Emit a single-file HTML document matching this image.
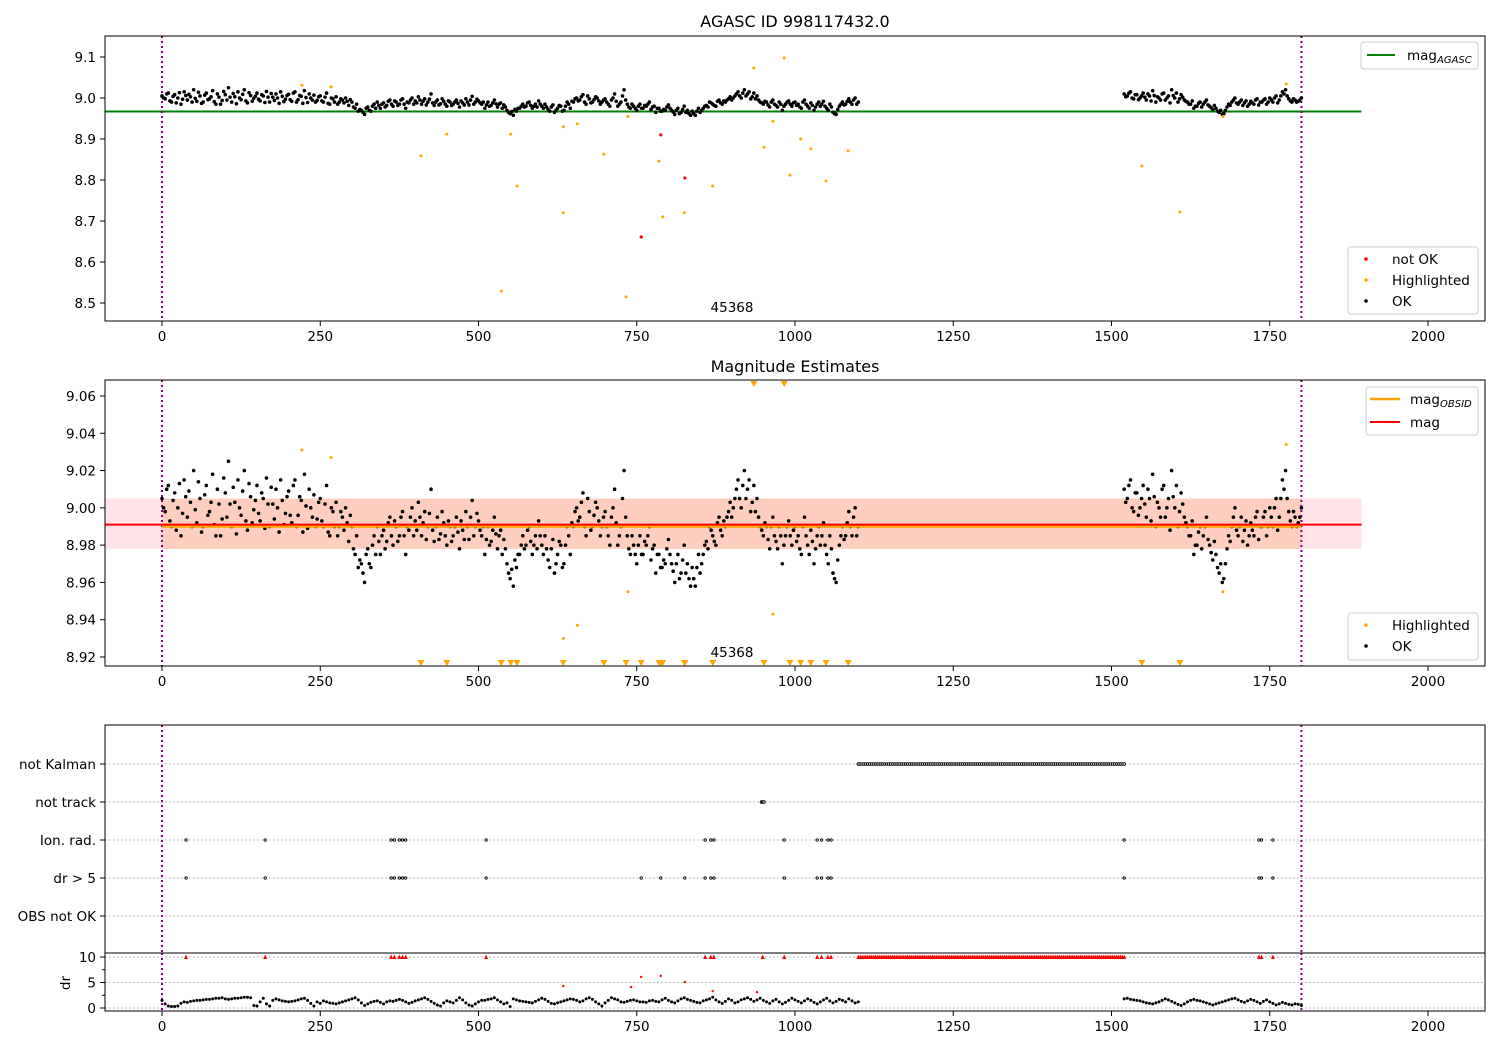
<!DOCTYPE html>
<html><head><meta charset="utf-8"><style>
body{margin:0;background:#fff}
svg{display:block;font-family:"DejaVu Sans","Liberation Sans",sans-serif}
</style></head><body>
<svg id="fig" width="1500" height="1050" viewBox="0 0 1500 1050" xmlns="http://www.w3.org/2000/svg"></svg>
<script>
// ---- data ----
const magT0 = 0, magStep = 5;
const magSeg1 = [9.005,8.998,9.012,8.99,9.008,9.0,8.985,9.015,8.995,9.003,
9.02,8.992,9.005,8.99,9.012,8.998,9.018,8.985,9.002,8.994,
9.008,9.025,8.99,9.003,9.015,8.996,9.02,8.988,9.006,8.999,
9.012,8.993,9.005,9.016,8.99,9.002,9.01,8.987,9.004,8.997,
9.009,8.992,9.015,8.996,9.004,9.018,8.989,9.0,9.007,8.994,
9.005,8.99,9.012,8.985,8.998,9.003,8.99,8.995,9.0,8.982,
8.99,8.975,8.968,8.97,8.96,8.978,8.968,8.985,8.99,8.975,
8.988,8.982,8.995,8.98,8.99,8.985,8.998,8.975,8.988,9.0,
8.993,9.003,8.985,8.998,8.99,9.01,8.982,8.995,8.986,8.992,
8.98,8.99,8.985,8.995,8.978,8.988,8.998,8.983,9.004,8.99,
8.993,8.985,8.975,8.99,8.982,8.995,8.978,8.988,8.983,8.97,
8.962,8.958,8.968,8.975,8.985,8.98,8.99,8.975,8.985,8.993,
8.98,8.985,8.972,8.978,8.965,8.975,8.98,8.97,8.99,8.975,
8.99,9.0,8.995,9.008,8.985,8.998,8.99,9.003,8.993,8.99,
8.998,8.985,8.995,9.01,8.98,8.99,9.02,8.985,8.975,8.98,
8.97,8.985,8.975,8.98,8.99,8.978,8.965,8.975,8.968,8.97,
8.983,8.97,8.96,8.975,8.965,8.98,8.97,8.958,8.962,8.968,
8.965,8.975,8.982,8.99,8.985,8.98,8.995,8.985,8.99,8.998,
8.995,9.005,9.015,9.0,9.02,9.01,8.998,9.012,9.005,8.99,
8.985,8.99,8.978,8.995,8.982,8.99,8.97,8.985,8.993,8.98,
8.99,8.985,8.975,8.995,8.98,8.988,8.97,8.985,8.98,8.992,
8.975,8.985,8.965,8.96,8.98,8.99,8.985,8.998,8.985,9.0,
8.99];
// interleaved observations at t = 2.5 + 5*i
const magSeg1b = [9.0,9.01,8.993,9.004,8.988,9.013,8.997,9.006,9.009,8.99,
8.999,9.014,8.987,9.007,8.996,9.003,8.991,9.01,8.985,9.016,
8.995,9.002,9.011,8.986,9.0,9.009,8.993,9.013,8.992,9.004,
8.997,9.008,8.989,9.002,9.011,8.994,9.0,9.015,8.991,9.006,
8.996,9.012,8.99,9.006,8.987,9.001,9.01,8.995,8.99,9.003,
8.993,9.002,8.987,9.0,8.99,8.985,8.998,8.988,8.992,8.996,
8.978,8.985,8.972,8.965,8.975,8.97,8.98,8.975,8.982,8.985,
8.978,8.992,8.985,8.993,8.982,8.995,8.985,8.99,8.995,8.985,
8.988,8.995,8.992,8.983,8.997,8.988,8.99,8.983,8.998,8.985,
8.993,8.982,8.99,8.987,8.993,8.983,8.99,8.995,8.985,8.997,
8.988,8.99,8.983,8.98,8.988,8.986,8.985,8.975,8.978,8.965,
8.967,8.972,8.975,8.98,8.978,8.988,8.982,8.98,8.978,8.985,
8.975,8.978,8.968,8.983,8.97,8.982,8.968,8.98,8.985,8.992,
8.998,8.993,9.003,8.99,9.005,8.988,8.996,9.0,8.985,8.995,
8.99,8.98,9.0,8.992,8.985,9.005,8.995,8.978,8.985,8.975,
8.98,8.975,8.982,8.985,8.972,8.98,8.975,8.968,8.972,8.978,
8.975,8.966,8.97,8.962,8.972,8.965,8.962,8.968,8.958,8.975,
8.97,8.98,8.978,8.988,8.982,8.992,8.988,8.993,8.995,9.003,
9.0,9.01,9.005,9.012,9.005,9.015,9.003,8.998,8.995,8.988,
8.992,8.983,8.99,8.985,8.978,8.985,8.98,8.99,8.985,8.988,
8.982,8.978,8.99,8.985,8.975,8.982,8.978,8.99,8.985,8.98,
8.97,8.978,8.962,8.972,8.985,8.983,8.992,8.99,8.995,8.985];
const magT1 = 1520;
const magSeg2 = [9.01,9.005,9.015,8.998,9.008,9.0,9.012,8.995,9.005,9.018,
8.99,9.0,9.01,8.995,9.005,9.02,9.0,8.99,9.008,8.995,
8.99,8.985,8.975,8.98,8.99,8.985,8.995,8.98,8.972,8.975,
8.965,8.96,8.97,8.985,8.99,9.0,8.985,8.995,8.988,8.98,
8.992,8.985,8.998,8.99,8.995,8.985,9.0,8.99,9.005,8.995,
9.015,9.02,8.998,8.99,8.995,8.992,9.0];
const magSeg2b = [9.003,9.012,9.0,9.008,8.996,9.005,9.002,9.01,8.993,9.006,
9.003,8.995,9.012,9.0,8.988,9.006,9.012,8.998,9.002,8.992,
8.985,8.993,8.98,8.987,8.978,8.99,8.983,8.976,8.982,8.968,
8.97,8.962,8.978,8.982,8.995,8.988,8.99,8.982,8.993,8.985,
8.988,8.995,8.983,8.99,8.998,8.99,8.995,9.0,8.988,9.005,
9.01,9.005,8.993,8.998,8.99,8.995];
const drSeg1 = [1.5,0.8,0.4,0.3,0.3,0.4,0.9,1.2,1.1,1.3,1.4,1.5,1.5,1.6,1.7,1.7,1.8,1.9,1.9,2.0,
1.8,1.7,1.8,1.9,1.9,2.0,2.1,2.1,2.0,0.5,0.4,1.2,1.9,0.8,0.4,1.5,1.8,1.6,1.4,1.3,
1.2,1.3,1.4,1.6,1.8,1.9,1.5,0.9,0.4,1.2,0.9,1.4,1.2,1.0,0.9,0.8,1.0,1.2,1.4,1.6,
1.8,2.0,1.6,1.0,0.5,0.8,1.1,1.3,1.4,1.1,0.8,1.2,1.4,1.3,1.5,1.7,1.5,1.2,0.9,1.1,
1.4,1.6,1.8,2.0,1.7,1.3,0.9,0.6,0.4,1.0,1.4,1.2,1.0,1.5,2.0,1.6,1.0,0.6,0.4,0.8,
1.2,1.5,1.5,1.7,1.8,2.0,1.6,1.2,0.8,1.0,0.3,1.8,1.6,1.4,1.3,1.2,1.1,1.0,1.3,1.6,
1.9,1.7,1.3,0.9,0.8,1.0,1.2,1.4,1.6,1.8,1.7,1.5,1.2,1.4,1.8,2.0,1.7,1.2,0.8,0.4,
1.0,1.5,2.0,1.8,1.6,1.2,1.1,1.3,1.5,1.6,1.4,1.2,1.2,1.1,1.4,1.5,1.3,1.2,1.6,1.9,
1.5,1.2,1.0,1.4,1.8,2.0,1.7,1.5,1.3,1.1,1.0,1.4,1.6,1.8,2.1,1.6,1.2,0.9,1.3,1.8,
1.5,1.0,1.2,1.6,1.8,2.0,1.7,1.3,1.6,1.9,1.5,1.2,0.9,1.4,1.7,1.2,0.8,1.1,1.5,1.9,
1.6,1.3,1.0,1.4,1.8,1.5,1.1,0.8,1.2,1.6,1.9,1.4,1.0,1.3,1.7,1.5,1.2,1.8,1.4,1.0,1.2];
const drSeg2 = [1.8,1.9,1.7,1.6,1.5,1.4,1.2,1.0,0.9,0.8,1.0,1.2,1.5,1.8,1.6,1.3,1.0,0.7,0.5,0.8,
1.2,1.5,1.7,1.5,1.4,1.2,1.0,0.8,0.6,0.8,1.0,1.2,1.4,1.6,1.8,1.9,1.6,1.3,1.1,1.4,
1.7,1.5,1.2,0.9,1.3,1.6,1.2,0.9,0.6,0.8,1.1,0.9,0.7,0.6,0.8,0.7,0.5];
const hlT = [221,267,409,450,536,551,561,634,634,656,698,733,736,785,791,825,870,935,951,965,983,992,1009,1025,1049,1084,1548,1608,1676,1776];
const hlMag = [9.031,9.027,8.859,8.912,8.529,8.912,8.785,8.930,8.720,8.937,8.863,8.515,8.955,8.846,8.710,8.720,8.785,9.073,8.880,8.943,9.098,8.812,8.900,8.876,8.798,8.871,8.834,8.722,8.955,9.034];
const badT = [757,788,826];
const badMag = [8.661,8.910,8.805];
const drRedT = [634,741,757,788,826,870,940];
const drRedV = [4.3,4.1,6.1,6.3,5.1,3.3,3.1];
const flagIonT = [38,163,362,367,375,380,385,512,858,867,872,983,1035,1042,1052,1057,1520,1733,1737,1755];
const flagDrT = [38,163,362,367,375,380,385,512,757,788,826,858,867,872,983,1035,1042,1052,1057,1520,1733,1737,1755];
const flagTrackT = [947,949,951];
const kalmanStart = 1100, kalmanEnd = 1520, kalmanStep = 3;
const drClipT = [38,163,362,367,375,380,385,512,858,867,872,949,983,1035,1042,1052,1057,1733,1737,1755];
const magAgasc = 8.967, magMean = 8.991, magObsid = 8.9905, bandLo = 8.978, bandHi = 9.005;
const xTicks = [0,250,500,750,1000,1250,1500,1750,2000];
const y1Ticks = [8.5,8.6,8.7,8.8,8.9,9.0,9.1];
const y2Ticks = [8.92,8.94,8.96,8.98,9.00,9.02,9.04,9.06];
const cats = ["not Kalman","not track","Ion. rad.","dr > 5","OBS not OK"];
const drTicks = [0,5,10];

// ---- scales ----
const NS="http://www.w3.org/2000/svg";
const svg=document.getElementById('fig');
const X=t=>162+t*0.633;
const Y1=m=>57+(9.1-m)*410;
const Y2=m=>396+(9.06-m)*1864;
const YC=i=>764+i*38;
const YD=d=>1008-d*5.1;
function el(tag,attrs,parent){const e=document.createElementNS(NS,tag);for(const k in attrs)e.setAttribute(k,attrs[k]);(parent||svg).appendChild(e);return e;}
function txt(s,x,y,attrs,parent){const e=el('text',Object.assign({x:x,y:y,'font-size':13.5,fill:'#000'},attrs||{}),parent);e.textContent=s;return e;}
const series1=[];
magSeg1.forEach((m,i)=>series1.push([magT0+i*magStep,m]));
magSeg1b.forEach((m,i)=>series1.push([magT0+2.5+i*magStep,m]));
magSeg2.forEach((m,i)=>series1.push([magT1+i*magStep,m]));
magSeg2b.forEach((m,i)=>series1.push([magT1+2.5+i*magStep,m]));
const drSeries=[];drSeg1.forEach((d,i)=>drSeries.push([magT0+i*magStep,d]));drSeg2.forEach((d,i)=>drSeries.push([magT1+i*magStep,d]));

function clip(id,x,y,w,h){const c=el('clipPath',{id:id});el('rect',{x:x,y:y,width:w,height:h},c);}
clip('c1',105,36,1380,285);clip('c2',105,380,1380,286);clip('c3',105,725,1380,228);clip('c4',105,953,1380,58);

function xAxis(yb,g){xTicks.forEach(t=>{el('line',{x1:X(t),x2:X(t),y1:yb,y2:yb+5,stroke:'#000'},g);txt(String(t),X(t),yb+20,{'text-anchor':'middle'},g);});}
function vlines(top,bot,g){[0,1800].forEach(t=>el('line',{x1:X(t),x2:X(t),y1:top,y2:bot,stroke:'purple','stroke-width':2,'stroke-dasharray':'2,3'},g));}

// ---- panel 1 ----
const p1=el('g',{});

txt('AGASC ID 998117432.0',795,27,{'text-anchor':'middle','font-size':16},p1);
const g1=el('g',{'clip-path':'url(#c1)'},p1);
el('line',{x1:X(-90),x2:X(1895),y1:Y1(magAgasc),y2:Y1(magAgasc),stroke:'green','stroke-width':2},g1);
vlines(36,321,g1);
series1.forEach(p=>{const c=el('circle',{cx:X(p[0]),cy:Y1(p[1]),r:1.8,fill:'#000'},g1);});
hlT.forEach((t,i)=>{const c=el('circle',{cx:X(t),cy:Y1(hlMag[i]),r:1.5,fill:'orange'},g1);});
badT.forEach((t,i)=>{const c=el('circle',{cx:X(t),cy:Y1(badMag[i]),r:1.6,fill:'red'},g1);});
txt('45368',732,312,{'text-anchor':'middle'},p1);
el('rect',{x:105,y:36,width:1380,height:285,fill:'none',stroke:'#000'},p1);
y1Ticks.forEach(m=>{el('line',{x1:100,x2:105,y1:Y1(m),y2:Y1(m),stroke:'#000'},p1);txt(m.toFixed(1),96,Y1(m)+5,{'text-anchor':'end'},p1);});
xAxis(321,p1);
const lg1=el('g',{},p1);
el('rect',{x:1361,y:42,width:117,height:27,rx:3,fill:'#fff',stroke:'#ccc'},lg1);
el('line',{x1:1367,x2:1395,y1:55,y2:55,stroke:'green','stroke-width':2},lg1);
const t1=txt('mag',1407,60,{},lg1);const s1=el('tspan',{'font-size':10,'font-style':'italic',dy:3},t1);s1.textContent='AGASC';
const lg2=el('g',{},p1);
el('rect',{x:1348,y:247,width:130,height:67,rx:3,fill:'#fff',stroke:'#ccc'},lg2);
[['red','not OK',259],['orange','Highlighted',280],['#000','OK',301]].forEach(a=>{el('circle',{cx:1366,cy:a[2],r:1.8,fill:a[0]},lg2);txt(a[1],1392,a[2]+5,{},lg2);});

// ---- panel 2 ----
const p2=el('g',{});

txt('Magnitude Estimates',795,372,{'text-anchor':'middle','font-size':16},p2);
const g2=el('g',{'clip-path':'url(#c2)'},p2);
el('rect',{x:X(-90),y:Y2(bandHi),width:X(1895)-X(-90),height:Y2(bandLo)-Y2(bandHi),fill:'pink','fill-opacity':0.45},g2);
el('rect',{x:X(0),y:Y2(bandHi),width:X(1800)-X(0),height:Y2(bandLo)-Y2(bandHi),fill:'#ffa060','fill-opacity':0.3},g2);
vlines(380,666,g2);
series1.forEach(p=>{const c=el('circle',{cx:X(p[0]),cy:Y2(p[1]),r:1.8,fill:'#000'},g2);});
el('line',{x1:X(0),x2:X(1800),y1:Y2(magObsid)+1,y2:Y2(magObsid)+1,stroke:'orange','stroke-width':2.5},g2);
el('line',{x1:X(-90),x2:X(1895),y1:Y2(magMean),y2:Y2(magMean),stroke:'red','stroke-width':2},g2);
const allHlT=hlT.concat(badT), allHlM=hlMag.concat(badMag);
allHlT.forEach((t,i)=>{const m=allHlM[i];let c;
 if(m<8.915){const x=X(t);c=el('path',{d:`M${x-3.5},660 L${x+3.5},660 L${x},666 Z`,fill:'orange'},g2);}
 else if(m>9.066){const x=X(t);c=el('path',{d:`M${x-3.5},381 L${x+3.5},381 L${x},387 Z`,fill:'orange'},g2);}
 else c=el('circle',{cx:X(t),cy:Y2(m),r:1.5,fill:'orange'},g2);
 });
txt('45368',732,657,{'text-anchor':'middle'},p2);
el('rect',{x:105,y:380,width:1380,height:286,fill:'none',stroke:'#000'},p2);
y2Ticks.forEach(m=>{el('line',{x1:100,x2:105,y1:Y2(m),y2:Y2(m),stroke:'#000'},p2);txt(m.toFixed(2),96,Y2(m)+5,{'text-anchor':'end'},p2);});
xAxis(666,p2);
const lg3=el('g',{},p2);
el('rect',{x:1366,y:387,width:112,height:48,rx:3,fill:'#fff',stroke:'#ccc'},lg3);
el('line',{x1:1370,x2:1400,y1:399,y2:399,stroke:'orange','stroke-width':2.5},lg3);
const t2=txt('mag',1410,404,{},lg3);const s2=el('tspan',{'font-size':10,'font-style':'italic',dy:3},t2);s2.textContent='OBSID';
el('line',{x1:1370,x2:1400,y1:422,y2:422,stroke:'red','stroke-width':2},lg3);
txt('mag',1410,427,{},lg3);
const lg4=el('g',{},p2);
el('rect',{x:1348,y:613,width:130,height:47,rx:3,fill:'#fff',stroke:'#ccc'},lg4);
[['orange','Highlighted',625],['#000','OK',646]].forEach(a=>{el('circle',{cx:1366,cy:a[2],r:1.8,fill:a[0]},lg4);txt(a[1],1392,a[2]+5,{},lg4);});

// ---- panel 3 flags ----
const p3=el('g',{});

cats.forEach((c,i)=>{el('line',{x1:105,x2:1485,y1:YC(i),y2:YC(i),stroke:'#aaa','stroke-dasharray':'1.5,2.5'},p3);el('line',{x1:100,x2:105,y1:YC(i),y2:YC(i),stroke:'#000'},p3);txt(c,96,YC(i)+5,{'text-anchor':'end'},p3);});
const g3=el('g',{'clip-path':'url(#c3)'},p3);
vlines(725,953,g3);
for(let t=kalmanStart;t<=kalmanEnd;t+=kalmanStep){const c=el('circle',{cx:X(t),cy:YC(0),r:1.3,fill:'#fff',stroke:'#000','stroke-width':0.9},g3);}
flagTrackT.forEach(t=>{const c=el('circle',{cx:X(t),cy:YC(1),r:1.3,fill:'#fff',stroke:'#000','stroke-width':0.9},g3);});
flagIonT.forEach(t=>{const c=el('circle',{cx:X(t),cy:YC(2),r:1.2,fill:'#fff',stroke:'#000','stroke-width':0.9},g3);});
flagDrT.forEach(t=>{const c=el('circle',{cx:X(t),cy:YC(3),r:1.2,fill:'#fff',stroke:'#000','stroke-width':0.9},g3);});
el('rect',{x:105,y:725,width:1380,height:228,fill:'none',stroke:'#000'},p3);

// ---- dr panel ----
const p4=el('g',{});

drTicks.forEach(d=>{el('line',{x1:105,x2:1485,y1:YD(d),y2:YD(d),stroke:'#aaa','stroke-dasharray':'1.5,2.5'},p4);el('line',{x1:100,x2:105,y1:YD(d),y2:YD(d),stroke:'#000'},p4);txt(String(d),96,YD(d)+5,{'text-anchor':'end'},p4);});
el('line',{x1:102,x2:105,y1:YD(7.5),y2:YD(7.5),stroke:'#000'},p4);
el('line',{x1:102,x2:105,y1:YD(2.5),y2:YD(2.5),stroke:'#000'},p4);
const g4=el('g',{'clip-path':'url(#c4)'},p4);
vlines(953,1011,g4);
drSeries.forEach(p=>{const c=el('circle',{cx:X(p[0]),cy:YD(p[1]),r:1.5,fill:'#000'},g4);});
drRedT.forEach((t,i)=>{const c=el('circle',{cx:X(t),cy:YD(drRedV[i]),r:1.2,fill:'red'},g4);});
const clipAll=drClipT.slice();for(let t=kalmanStart;t<=kalmanEnd;t+=kalmanStep)clipAll.push(t);
clipAll.forEach(t=>{const x=X(t),y=YD(10);const c=el('path',{d:`M${x-2},${y+2} L${x+2},${y+2} L${x},${y-2.5} Z`,fill:'red'},g4);});
el('rect',{x:105,y:953,width:1380,height:58,fill:'none',stroke:'#000'},p4);
txt('dr',70,983,{'text-anchor':'middle',transform:'rotate(-90 70 983)'},p4);
xAxis(1011,p4);
</script>
</body></html>
